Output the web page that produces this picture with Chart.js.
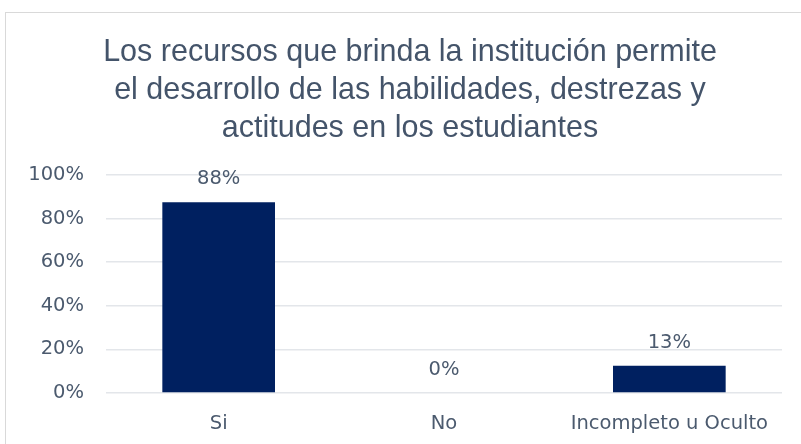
<!DOCTYPE html>
<html>
<head>
<meta charset="utf-8">
<script src="https://cdn.jsdelivr.net/npm/chart.js@4"></script>
<style>
  html, body { margin: 0; padding: 0; background: #fff; }
  #frame {
    position: absolute; left: 5px; top: 12px; width: 810px; height: 450px;
    border: 1px solid #d9d9d9; box-sizing: border-box;
  }
  #wrap { position: absolute; left: 0; top: 0; width: 801px; height: 444px; }
</style>
</head>
<body>
<div id="frame"></div>
<div id="wrap"><canvas id="chart" width="801" height="444"></canvas></div>
<script>
  var titleLines = [
    'Los recursos que brinda la institución permite',
    'el desarrollo de las habilidades, destrezas y',
    'actitudes en los estudiantes'
  ];
  var categories = ['Si', 'No', 'Incompleto u Oculto'];
  var values = [87.5, 0, 12.5];
  var yTicks = [0, 20, 40, 60, 80, 100];

  var textColor = '#44546A';
  var tickColor = '#4b5a6e';
  var tickFont = { family: '"DejaVu Sans", sans-serif', size: 19.5 };

  // etiquetas sobre cada barra (no hay plugin datalabels sin red)
  var barLabels = {
    id: 'barLabels',
    afterLayout: function(chart) {
      // el título del original queda un poco a la derecha del centro
      chart.titleBlock.left += 9;
      chart.titleBlock.right += 9;
    },
    afterDatasetsDraw: function(chart) {
      var ctx = chart.ctx;
      var meta = chart.getDatasetMeta(0);
      ctx.save();
      ctx.font = '19.5px "DejaVu Sans", sans-serif';
      ctx.fillStyle = tickColor;
      ctx.textAlign = 'center';
      ctx.textBaseline = 'middle';
      meta.data.forEach(function(bar, i) {
        ctx.fillText(Math.round(values[i]) + '%', bar.x, bar.y - 23);
      });
      ctx.restore();
    }
  };

  var ctx = document.getElementById('chart').getContext('2d');
  var myChart = new Chart(ctx, {
    type: 'bar',
    data: {
      labels: categories,
      datasets: [{
        data: values,
        backgroundColor: '#002060',
        barPercentage: 1,
        categoryPercentage: 0.5
      }]
    },
    options: {
      responsive: false,
      animation: false,
      layout: {
        padding: { left: 20, right: 19, top: 34, bottom: 0 }
      },
      plugins: {
        legend: { display: false },
        tooltip: { enabled: false },
        title: {
          display: true,
          text: titleLines,
          color: textColor,
          font: { family: '"Liberation Sans", Arial, sans-serif', size: 30.5, weight: 'normal', lineHeight: 1.246 },
          padding: { top: 0, bottom: 27 }
        }
      },
      scales: {
        y: {
          min: 0,
          max: 100,
          afterBuildTicks: function(axis) {
            axis.ticks = yTicks.map(function(v) { return { value: v }; });
          },
          afterFit: function(axis) { axis.width = 86; },
          ticks: {
            color: tickColor,
            padding: 22,
            font: tickFont,
            callback: function(v) { return v + '%'; }
          },
          grid: { color: '#e3e6ea', lineWidth: 1.5, drawTicks: false },
          border: { display: false }
        },
        x: {
          afterFit: function(axis) { axis.height = 51; },
          ticks: {
            color: tickColor,
            padding: 11,
            maxRotation: 0,
            font: tickFont
          },
          grid: { display: false },
          border: { display: false }
        }
      }
    },
    plugins: [barLabels]
  });
</script>
</body>
</html>
